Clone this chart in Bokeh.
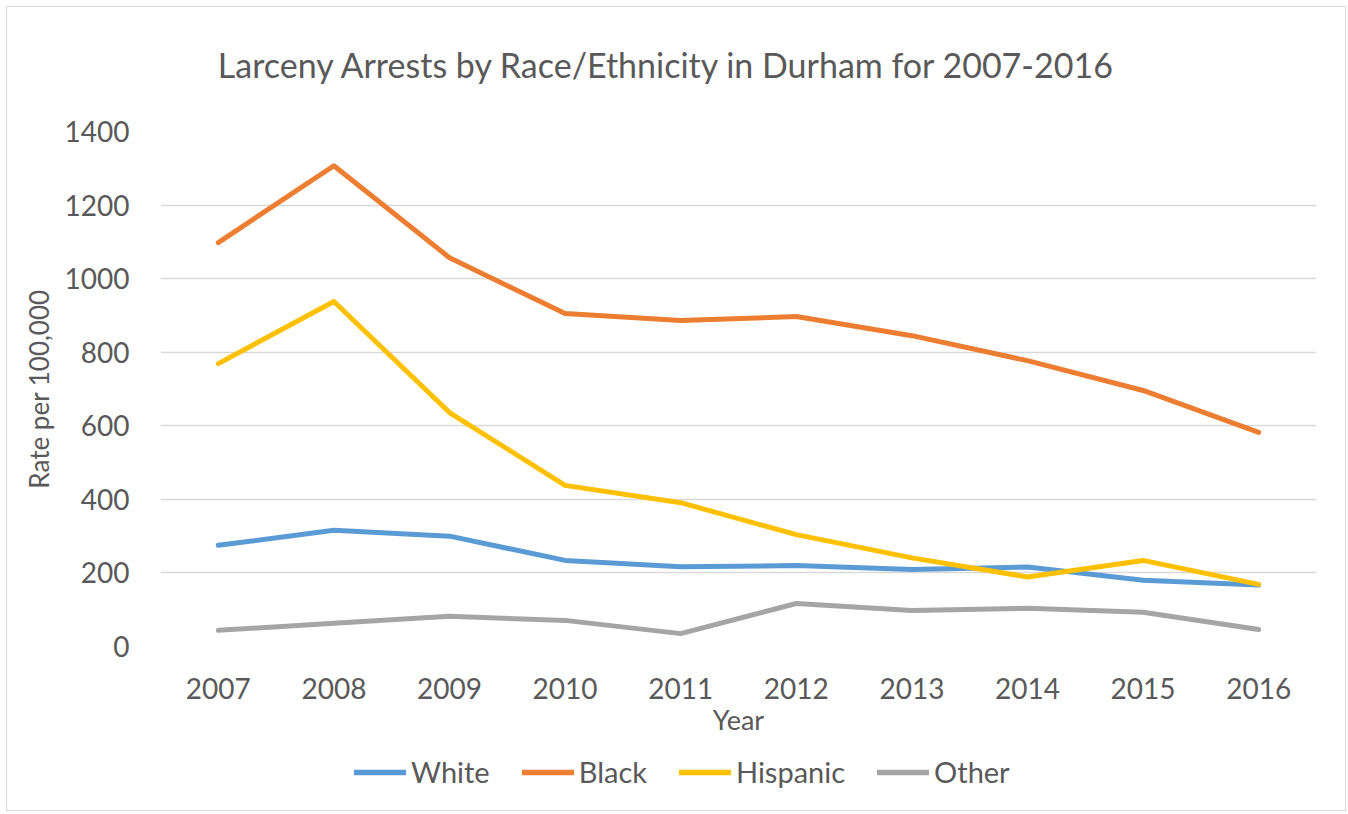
from bokeh.plotting import figure
from bokeh.models import FixedTicker, Legend, LegendItem, Label
from bokeh.layouts import column
from bokeh.embed import file_html
from bokeh.resources import INLINE

years = [2007, 2008, 2009, 2010, 2011, 2012, 2013, 2014, 2015, 2016]
white = [275, 316, 300, 234, 217, 220, 209, 216, 180, 167]
black = [1098, 1307, 1057, 905, 886, 897, 845, 777, 696, 582]
hispanic = [769, 938, 636, 438, 391, 304, 241, 189, 234, 169]
other = [44, 63, 82, 71, 35, 117, 98, 104, 93, 46]
series_names = ["White", "Black", "Hispanic", "Other"]
colors = ["#5B9BD5", "#ED7D31", "#FFC000", "#A5A5A5"]
y_ticks = [0, 200, 400, 600, 800, 1000, 1200, 1400]
title_text = "Larceny Arrests by Race/Ethnicity in Durham for 2007-2016"

FONT = "Lato"
TXT = "#595959"
FW = 1156
BL, BR = 153, 29


def strip(h):
    s = figure(frame_width=FW, frame_height=h, output_backend="svg", toolbar_location=None,
               x_range=(0, FW), y_range=(0, h), x_axis_type=None, y_axis_type=None,
               min_border_left=BL, min_border_right=BR, min_border_top=0, min_border_bottom=0)
    s.xgrid.grid_line_color = None
    s.ygrid.grid_line_color = None
    s.outline_line_color = None
    return s


# --- title strip ---
p0 = strip(104)
p0.add_layout(Label(x=507, y=47, text=title_text, text_align="center", text_baseline="middle",
                    text_font=FONT, text_font_size="34px", text_color=TXT))

# --- main chart ---
p = figure(frame_width=FW, frame_height=515, output_backend="svg", toolbar_location=None,
           x_range=(2006.5, 2016.5), y_range=(0, 1400),
           min_border_left=BL, min_border_right=BR, min_border_top=20, min_border_bottom=98)

series = [white, black, hispanic, other]
for name, vals, c in zip(series_names, series, colors):
    p.line(years, vals, line_color=c, line_width=5, line_cap="round", line_join="round")

p.xaxis.ticker = FixedTicker(ticks=years)
p.yaxis.ticker = FixedTicker(ticks=y_ticks)
for ax in [p.xaxis[0], p.yaxis[0]]:
    ax.axis_line_color = None
    ax.major_tick_line_color = None
    ax.minor_tick_line_color = None
    ax.major_label_text_font = FONT
    ax.major_label_text_font_size = "28px"
    ax.major_label_text_color = TXT
    ax.axis_label_text_font = FONT
    ax.axis_label_text_font_size = "27px"
    ax.axis_label_text_color = TXT
    ax.axis_label_text_font_style = "normal"
p.yaxis.axis_label_text_font_size = "26px"
p.xaxis.axis_label = "Year"
p.yaxis.axis_label = "Rate per 100,000"
p.xaxis.major_label_standoff = 25
p.xaxis.axis_label_standoff = 1
p.yaxis.major_label_standoff = 25
p.yaxis.axis_label_standoff = 7

p.xgrid.grid_line_color = None
p.ygrid.grid_line_color = "#D9D9D9"
p.ygrid.grid_line_width = 1.5
p.outline_line_color = None

# --- legend strip (series drawn out of view; only their legend entries show) ---
p2 = strip(66)
items = []
for name, vals, c in zip(series_names, series, colors):
    r = p2.line(years, vals, line_color=c, line_width=5.5, line_cap="round")
    items.append(LegendItem(label=name, renderers=[r]))
legend = Legend(items=items, orientation="horizontal", location=(194, 21),
                label_text_font=FONT, label_text_font_size="29px", label_text_color=TXT,
                glyph_width=52, label_standoff=5, spacing=32, border_line_color=None,
                background_fill_alpha=0, margin=0, padding=0)
p2.add_layout(legend, "center")

layout = column(p0, p, p2, spacing=0)
layout.styles = {"border": "1px solid #D9D9D9", "margin-left": "6px", "margin-top": "6px"}

open("out.html", "w").write(file_html(layout, INLINE))
